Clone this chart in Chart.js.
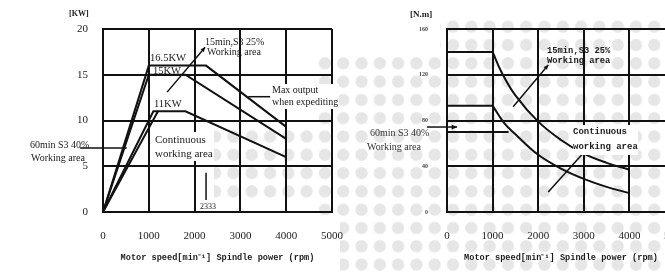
<!DOCTYPE html>
<html><head><meta charset="utf-8">
<script src="https://cdn.jsdelivr.net/npm/chart.js@4.4.1/dist/chart.umd.min.js"></script>
<style>
html,body{margin:0;padding:0;width:665px;height:272px;overflow:hidden;background:#fff;position:relative;}
.dots{position:absolute;z-index:0;background-image:radial-gradient(circle at center,#e6e6e6 0,#e6e6e6 5.6px,rgba(255,255,255,0) 6.6px);background-size:18.3px 18.3px;}
.box{position:absolute;top:0;z-index:1;}
.t{position:absolute;z-index:2;white-space:nowrap;font-family:"Liberation Serif",serif;color:#1a1a1a;line-height:1;}
.m{font-family:"Liberation Mono","DejaVu Sans Mono",monospace;font-weight:bold;}
.bg{background:#fff;}
</style></head>
<body>
<div class="box" style="left:0;width:345px;height:272px"><canvas id="c1" width="345" height="272"></canvas></div>
<div class="box" style="left:340px;width:350px;height:272px"><canvas id="c2" width="350" height="272"></canvas></div>

<div class="t" style="left:69px;top:10px;font-size:8px;font-weight:bold">[KW]</div>
<div class="t" style="left:150px;top:53px;font-size:10.5px">16.5KW</div>
<div class="t" style="left:153px;top:66px;font-size:10.5px">15KW</div>
<div class="t" style="left:154px;top:99px;font-size:10.5px">11KW</div>
<div class="t" style="left:205px;top:37px;font-size:10px">15min,S3 25%</div>
<div class="t" style="left:207px;top:47px;font-size:10px">Working area</div>
<div class="t bg" style="left:271px;top:84px;font-size:10px;padding:1px">Max output<br><span style="line-height:13px">when expediting</span></div>
<div class="t bg" style="left:155px;top:132px;font-size:11px;line-height:14px;padding-bottom:1px">Continuous<br>working area</div>
<div class="t" style="left:30px;top:140px;font-size:10px">60min S3 40%</div>
<div class="t" style="left:31px;top:153px;font-size:10px">Working area</div>
<div class="t bg" style="left:200px;top:203px;font-size:8px">2333</div>

<div class="t" style="left:410px;top:10px;font-size:9px;font-weight:bold">[N.m]</div>
<div class="t m" style="left:547px;top:47px;font-size:8.8px">15min,S3 25%</div>
<div class="t m" style="left:547px;top:57px;font-size:8.8px">Working area</div>
<div class="t m bg" style="left:573px;top:125px;font-size:9px;line-height:15px">Continuous<br>working area</div>
<div class="t" style="left:370px;top:128px;font-size:10px;color:#333">60min S3 40%</div>
<div class="t" style="left:367px;top:142px;font-size:10px;color:#333">Working area</div>

<script>
// ---- axes / ticks ----
const speedTicks = [0, 1000, 2000, 3000, 4000, 5000];
const powerTicks = [0, 5, 10, 15, 20];
const torqueTicks = [0, 40, 80, 120, 160];
const xTitle = 'Motor speed[min\u207B\u00B9] Spindle power (rpm)';

// ---- power curves (rpm, kW) ----
const s325Speed = [0, 1000, 2250, 4000];
const s325Power = [0, 16, 16, 9.3];
const kw15Speed = [0, 1000, 1800, 4000];
const kw15Power = [0, 15, 15, 8];
const kw11Speed = [0, 1100, 1800, 4000];
const kw11Power = [0, 11, 11, 6];
const kw11bSpeed = [0, 1200];
const kw11bPower = [0, 11];

// ---- torque curves (rpm, N.m) ----
const tUpFlatSpeed = [0, 1000];
const tUpFlatTorque = [140, 140];
const tUpSpeed = [1000, 1200, 1500, 2000, 2500, 3000, 3500, 4000];
const tUpTorque = [140, 122, 102, 79, 63, 51, 43, 37];
const tLoFlatSpeed = [0, 1000];
const tLoFlatTorque = [93, 93];
const tLoSpeed = [1000, 1250, 1500, 2000, 2500, 3000, 3500, 4000];
const tLoTorque = [93, 78, 68, 50, 38, 29, 22, 16.5];
const t60Speed = [0, 1350];
const t60Torque = [70, 70];

// ---- leader lines (data units) ----
const lead15Speed = [1400, 2230];   const lead15Val = [13.1, 18.0];
const leadMaxSpeed = [3170, 3650];  const leadMaxVal = [12.6, 12.6];
const lead60Speed = [-500, 520];    const lead60Val = [7.0, 7.0];
const mark2333Speed = [2250, 2250]; const mark2333Val = [1.3, 4.3];
const rLead15Speed = [1450, 2220];  const rLead15Val = [92, 128.5];
const rLeadContSpeed = [2220, 2990];const rLeadContVal = [17.5, 51.6];
const rLead60Speed = [-440, 220];   const rLead60Val = [74.3, 74.3];

const pts = (xs, ys) => xs.map((x, i) => ({x, y: ys[i]}));
const INK = '#111';
const line = (xs, ys, extra) => Object.assign({data: pts(xs, ys), borderColor: INK, borderWidth: 2, pointRadius: 0, fill: false, tension: 0}, extra || {});
const lead = (xs, ys, extra) => line(xs, ys, Object.assign({borderWidth: 1.5, clip: false}, extra || {}));

// dot background
[[340,55,325,217],[440,16,225,39],[318,55,22,160],[214,128,104,72]].forEach(([L,T,W,H])=>{
  const d=document.createElement('div');d.className='dots';
  d.style.cssText+=`left:${L}px;top:${T}px;width:${W}px;height:${H}px;background-position:${443.85-L}px ${35.85-T}px;`;
  document.body.appendChild(d);
});

const arrowPlugin = {id: 'arrows', afterDatasetsDraw(chart) {
  const ctx = chart.ctx;
  chart.data.datasets.forEach((ds, i) => {
    if (!ds.arrow) return;
    const p = chart.getDatasetMeta(i).data;
    const a = p[p.length - 2], b = p[p.length - 1];
    const ang = Math.atan2(b.y - a.y, b.x - a.x), L = ds.arrow;
    ctx.save(); ctx.fillStyle = INK; ctx.beginPath();
    ctx.moveTo(b.x, b.y);
    ctx.lineTo(b.x - L * Math.cos(ang - 0.45), b.y - L * Math.sin(ang - 0.45));
    ctx.lineTo(b.x - L * Math.cos(ang + 0.45), b.y - L * Math.sin(ang + 0.45));
    ctx.closePath(); ctx.fill(); ctx.restore();
  });
}};

function makeScales(yTicks, yFont, yColor, yWidth, yPad) {
  return {
    x: {type: 'linear', min: speedTicks[0], max: speedTicks[speedTicks.length - 1],
        afterBuildTicks: s => { s.ticks = speedTicks.map(v => ({value: v})); },
        afterFit: s => { s.height = 60; },
        grid: {color: INK, lineWidth: 2, drawTicks: true, tickLength: 18, tickColor: 'rgba(0,0,0,0)'},
        border: {color: INK, width: 2},
        ticks: {padding: 0, color: '#1a1a1a', font: {family: 'Liberation Serif', size: 11}, maxRotation: 0,
                autoSkip: false, callback: v => String(v)},
        title: {display: true, text: xTitle, color: '#1a1a1a', padding: {top: 0, bottom: 9},
                font: {family: 'Liberation Mono', weight: 'bold', size: 8.6}}},
    y: {type: 'linear', min: yTicks[0], max: yTicks[yTicks.length - 1],
        afterBuildTicks: s => { s.ticks = yTicks.map(v => ({value: v})); },
        afterFit: s => { s.width = yWidth; },
        grid: {color: INK, lineWidth: 2, drawTicks: true, tickLength: yPad, tickColor: 'rgba(0,0,0,0)'},
        border: {color: INK, width: 2},
        ticks: {padding: 0, color: yColor, font: yFont, autoSkip: false, callback: v => String(v)}}
  };
}
const baseOpts = {responsive: false, animation: false, events: [],
  plugins: {legend: {display: false}, tooltip: {enabled: false}}};

new Chart(document.getElementById('c1'), {
  type: 'line',
  data: {datasets: [
    line(s325Speed, s325Power), line(kw15Speed, kw15Power),
    line(kw11Speed, kw11Power), line(kw11bSpeed, kw11bPower),
    lead(lead15Speed, lead15Val, {arrow: 5}), lead(leadMaxSpeed, leadMaxVal),
    lead(lead60Speed, lead60Val), lead(mark2333Speed, mark2333Val)
  ]},
  options: Object.assign({}, baseOpts, {
    layout: {padding: {top: 29, right: 13, left: 0, bottom: 0}},
    scales: makeScales(powerTicks, {family: 'Liberation Serif', size: 11}, '#1a1a1a', 103, 15)
  }),
  plugins: [arrowPlugin]
});

new Chart(document.getElementById('c2'), {
  type: 'line',
  data: {datasets: [
    line(tUpFlatSpeed, tUpFlatTorque), line(tUpSpeed, tUpTorque, {tension: 0.4}),
    line(tLoFlatSpeed, tLoFlatTorque), line(tLoSpeed, tLoTorque, {tension: 0.4}),
    line(t60Speed, t60Torque),
    lead(rLead15Speed, rLead15Val, {arrow: 5}), lead(rLeadContSpeed, rLeadContVal),
    lead(rLead60Speed, rLead60Val, {arrow: 6})
  ]},
  options: Object.assign({}, baseOpts, {
    layout: {padding: {top: 29, right: 15, left: 0, bottom: 0}},
    scales: makeScales(torqueTicks, {family: 'Liberation Serif', size: 6, weight: 'bold'}, '#444', 107, 19)
  }),
  plugins: [arrowPlugin]
});
</script>
</body></html>
